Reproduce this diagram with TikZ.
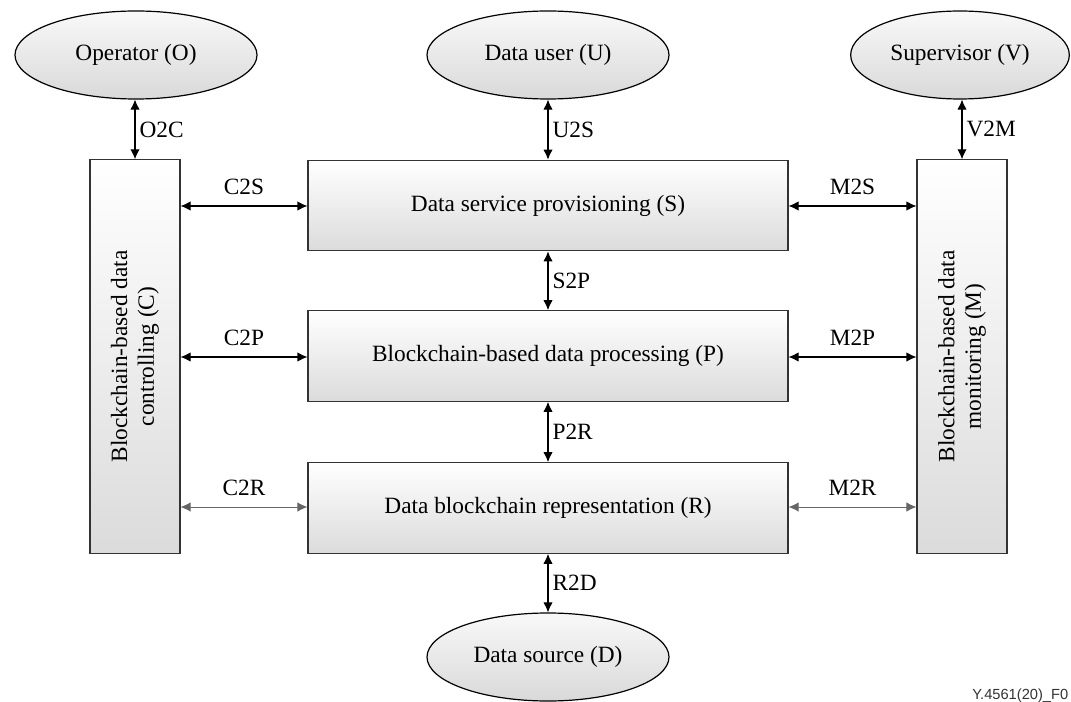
\documentclass[tikz,border=0pt]{standalone}
\usepackage{fontspec}
\setmainfont{Liberation Serif}
\newfontfamily\figfont{Liberation Sans}
\usetikzlibrary{shapes.geometric,arrows.meta}

\tikzset{
  bigtext/.style={font=\fontsize{17.5}{20}\selectfont},
  actor/.style={ellipse, draw, line width=0.9pt, top color=gray!5, bottom color=gray!30,
    minimum width=181.5pt, minimum height=66pt, bigtext},
  layer/.style={rectangle, draw=black!80, line width=0.8pt, top color=white, bottom color=gray!28,
    minimum width=360pt, minimum height=68pt, bigtext},
  sidebox/.style={rectangle, draw=black!80, line width=0.8pt, top color=white, bottom color=gray!28,
    minimum width=67.5pt, minimum height=295pt},
  sidetext/.style={rotate=90, align=center, bigtext},
  link/.style={{Latex[length=7.5pt,width=7pt]}-{Latex[length=7.5pt,width=7pt]}, line width=0.8pt},
  thinlink/.style={link, draw=black!60, line width=0.6pt},
  lbl/.style={bigtext, inner sep=1pt}
}

\begin{document}
\begin{tikzpicture}[x=0.75pt, y=-0.75pt]
  \useasboundingbox (0,0) rectangle (1071,702);

  \node[actor] (o) at (136,55) {Operator (O)};
  \node[actor] (u) at (548,55) {Data user (U)};
  \node[actor, minimum width=164pt] (v) at (960,55) {Supervisor (V)};
  \node[actor] (d) at (548,657) {Data source (D)};

  \node[sidebox] (c) at (135,356.5) {};
  \node[sidetext] (ct) at (c.center) {Blockchain-based data\\controlling (C)};
  \node[sidebox] (m) at (962,356.5) {};
  \node[sidetext] (mt) at (m.center) {Blockchain-based data\\monitoring (M)};

  \node[layer] (s) at (548,205.5) {Data service provisioning (S)};
  \node[layer] (p) at (548,356) {Blockchain-based data processing (P)};
  \node[layer] (r) at (548,508) {Data blockchain representation (R)};

  \draw[link] (o.south -| c.north) -- (c.north) node[lbl, midway, right=2pt] {O2C};
  \draw[link] (u.south) -- (s.north) node[lbl, midway, right=2pt] {U2S};
  \draw[link] (v.south -| m.north) -- (m.north) node[lbl, midway, right=2pt] {V2M};
  \draw[link] (s.south) -- (p.north) node[lbl, midway, right=2pt] {S2P};
  \draw[link] (p.south) -- (r.north) node[lbl, midway, right=2pt] {P2R};
  \draw[link] (r.south) -- (d.north) node[lbl, midway, right=2pt] {R2D};

  \draw[link] (c.east |- 0,206) -- (s.west |- 0,206) node[lbl, midway, above=7pt] {C2S};
  \draw[link] (c.east |- 0,357) -- (p.west |- 0,357) node[lbl, midway, above=7pt] {C2P};
  \draw[thinlink] (c.east |- 0,507) -- (r.west |- 0,507) node[lbl, midway, above=7pt] {C2R};
  \draw[link] (s.east |- 0,206) -- (m.west |- 0,206) node[lbl, midway, above=7pt] {M2S};
  \draw[link] (p.east |- 0,357) -- (m.west |- 0,357) node[lbl, midway, above=7pt] {M2P};
  \draw[thinlink] (r.east |- 0,507) -- (m.west |- 0,507) node[lbl, midway, above=7pt] {M2R};

  \node[anchor=base west, inner sep=0pt, font=\figfont\fontsize{11}{12}\selectfont, text=black!80] (tag) at (972,699) {Y.4561(20)\_F0};
\end{tikzpicture}
\end{document}
